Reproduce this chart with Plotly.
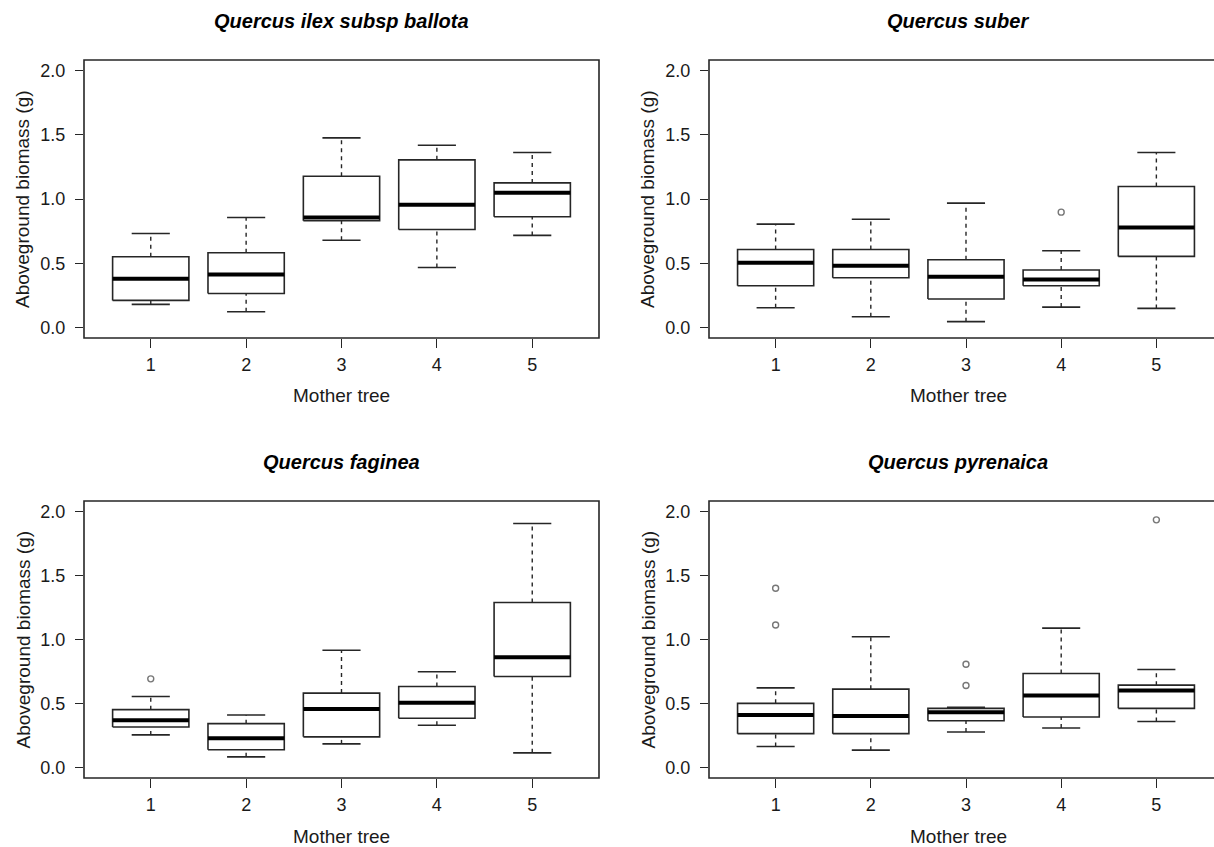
import plotly.graph_objects as go

# ---------------- data ----------------
trees = [1, 2, 3, 4, 5]
tree_labels = ["1", "2", "3", "4", "5"]
y_ticks = [0.0, 0.5, 1.0, 1.5, 2.0]
y_tick_labels = ["0.0", "0.5", "1.0", "1.5", "2.0"]

titles = ["Quercus ilex subsp ballota", "Quercus suber", "Quercus faginea", "Quercus pyrenaica"]

# Quercus ilex subsp ballota
ilex_low = [0.181, 0.124, 0.680, 0.468, 0.717]
ilex_q1 = [0.212, 0.266, 0.831, 0.763, 0.862]
ilex_med = [0.380, 0.414, 0.856, 0.955, 1.048]
ilex_q3 = [0.551, 0.582, 1.177, 1.304, 1.125]
ilex_up = [0.732, 0.856, 1.475, 1.418, 1.361]
ilex_out_x = []
ilex_out_y = []

# Quercus suber
suber_low = [0.155, 0.085, 0.047, 0.160, 0.150]
suber_q1 = [0.326, 0.388, 0.223, 0.326, 0.554]
suber_med = [0.505, 0.481, 0.396, 0.375, 0.779]
suber_q3 = [0.608, 0.608, 0.528, 0.448, 1.097]
suber_up = [0.805, 0.843, 0.968, 0.598, 1.361]
suber_out_x = [4]
suber_out_y = [0.898]

# Quercus faginea
fag_low = [0.256, 0.085, 0.186, 0.331, 0.116]
fag_q1 = [0.318, 0.140, 0.241, 0.386, 0.712]
fag_med = [0.370, 0.230, 0.458, 0.507, 0.862]
fag_q3 = [0.453, 0.344, 0.582, 0.634, 1.288]
fag_up = [0.556, 0.411, 0.916, 0.748, 1.904]
fag_out_x = [1]
fag_out_y = [0.693]

# Quercus pyrenaica
pyr_low = [0.166, 0.137, 0.279, 0.310, 0.360]
pyr_q1 = [0.266, 0.266, 0.367, 0.396, 0.463]
pyr_med = [0.411, 0.404, 0.432, 0.564, 0.603]
pyr_q3 = [0.502, 0.613, 0.463, 0.735, 0.644]
pyr_up = [0.623, 1.022, 0.471, 1.089, 0.766]
pyr_out_x = [1, 1, 3, 3, 5]
pyr_out_y = [1.400, 1.113, 0.807, 0.641, 1.933]

panels = [
    (ilex_low, ilex_q1, ilex_med, ilex_q3, ilex_up, ilex_out_x, ilex_out_y),
    (suber_low, suber_q1, suber_med, suber_q3, suber_up, suber_out_x, suber_out_y),
    (fag_low, fag_q1, fag_med, fag_q3, fag_up, fag_out_x, fag_out_y),
    (pyr_low, pyr_q1, pyr_med, pyr_q3, pyr_up, pyr_out_x, pyr_out_y),
]

# ---------------- layout geometry ----------------
W, H = 1214, 847
BOXW = 0.4     # half box width (R boxwex 0.8)
CAPW = 0.2     # half staple width
LINE = "#262626"
FONT = "Liberation Sans, Arial, Helvetica, sans-serif"

px_left = [(84, 599), (709, 1223), (84, 599), (709, 1223)]
px_top = [(60, 338), (60, 338), (501, 778), (501, 778)]

fig = go.Figure()

for k, (low, q1, med, q3, up, ox, oy) in enumerate(panels):
    ax = "" if k == 0 else str(k + 1)
    xr, yr = "x" + ax, "y" + ax

    bx, by = [], []
    mx, my = [], []
    wx, wy = [], []
    cx, cy = [], []
    for i, t in enumerate(trees):
        bx += [t - BOXW, t + BOXW, t + BOXW, t - BOXW, t - BOXW, None]
        by += [q1[i], q1[i], q3[i], q3[i], q1[i], None]
        mx += [t - BOXW, t + BOXW, None]
        my += [med[i], med[i], None]
        wx += [t, t, None, t, t, None]
        wy += [q3[i], up[i], None, low[i], q1[i], None]
        cx += [t - CAPW, t + CAPW, None, t - CAPW, t + CAPW, None]
        cy += [up[i], up[i], None, low[i], low[i], None]

    fig.add_trace(go.Scatter(x=wx, y=wy, mode="lines", xaxis=xr, yaxis=yr,
                             line=dict(color=LINE, width=1.4, dash="4px,4px"),
                             showlegend=False, hoverinfo="skip"))
    fig.add_trace(go.Scatter(x=cx, y=cy, mode="lines", xaxis=xr, yaxis=yr,
                             line=dict(color=LINE, width=1.6),
                             showlegend=False, hoverinfo="skip"))
    fig.add_trace(go.Scatter(x=bx, y=by, mode="lines", xaxis=xr, yaxis=yr,
                             line=dict(color=LINE, width=1.6),
                             showlegend=False, hoverinfo="skip"))
    fig.add_trace(go.Scatter(x=mx, y=my, mode="lines", xaxis=xr, yaxis=yr,
                             line=dict(color="#000000", width=4),
                             showlegend=False, hoverinfo="skip"))
    if ox:
        fig.add_trace(go.Scatter(x=ox, y=oy, mode="markers", xaxis=xr, yaxis=yr,
                                 marker=dict(symbol="circle-open", size=6,
                                             color="#777777", line=dict(width=1.4)),
                                 showlegend=False, hoverinfo="skip"))

    x0p, x1p = px_left[k]
    t0p, t1p = px_top[k]
    dom_x1 = min(x1p, W)
    xunit = (x1p - x0p) / 5.4
    xmax = 0.3 + (dom_x1 - x0p) / xunit

    xaxis = dict(domain=[x0p / W, dom_x1 / W], range=[0.3, xmax],
                 tickvals=trees, ticktext=tree_labels, ticks="outside",
                 ticklen=9, tickwidth=1.4, tickcolor=LINE, showgrid=False,
                 zeroline=False, showline=False, anchor=yr, ticklabelstandoff=1,
                 tickfont=dict(family=FONT, size=18, color="#1a1a1a"))
    yaxis = dict(domain=[1 - t1p / H, 1 - t0p / H], range=[-0.08, 2.08],
                 tickvals=y_ticks, ticktext=y_tick_labels, ticks="outside",
                 ticklen=8, tickwidth=1.4, tickcolor=LINE, showgrid=False,
                 zeroline=False, showline=False, anchor=xr, ticklabelstandoff=6,
                 tickfont=dict(family=FONT, size=18, color="#1a1a1a"))
    fig.update_layout(**{"xaxis" + ax: xaxis, "yaxis" + ax: yaxis})

    # frame
    fig.add_shape(type="rect", xref="paper", yref="paper",
                  x0=x0p / W, x1=x1p / W, y0=1 - t1p / H, y1=1 - t0p / H,
                  line=dict(color=LINE, width=1.6), layer="above")

    cx_title = ((x0p + x1p) / 2 - (8 if x1p > W else 0)) / W
    # panel title
    fig.add_annotation(text="<b><i>%s</i></b>" % titles[k], xref="paper", yref="paper",
                       x=cx_title, y=1 - (t0p - 39) / H, showarrow=False,
                       font=dict(family=FONT, size=20, color="#000000"),
                       xanchor="center", yanchor="middle")
    # y title
    fig.add_annotation(text="Aboveground biomass (g)", xref="paper", yref="paper",
                       x=(x0p - 61) / W, y=1 - ((t0p + t1p) / 2) / H, textangle=-90,
                       showarrow=False, font=dict(family=FONT, size=19, color="#1a1a1a"),
                       xanchor="center", yanchor="middle")
    # x title
    fig.add_annotation(text="Mother tree", xref="paper", yref="paper",
                       x=cx_title, y=1 - (t1p + 58) / H, showarrow=False,
                       font=dict(family=FONT, size=19, color="#1a1a1a"),
                       xanchor="center", yanchor="middle")

fig.update_layout(width=W, height=H, margin=dict(l=0, r=0, t=0, b=0),
                  paper_bgcolor="white", plot_bgcolor="white")

fig.write_html("out.html")
